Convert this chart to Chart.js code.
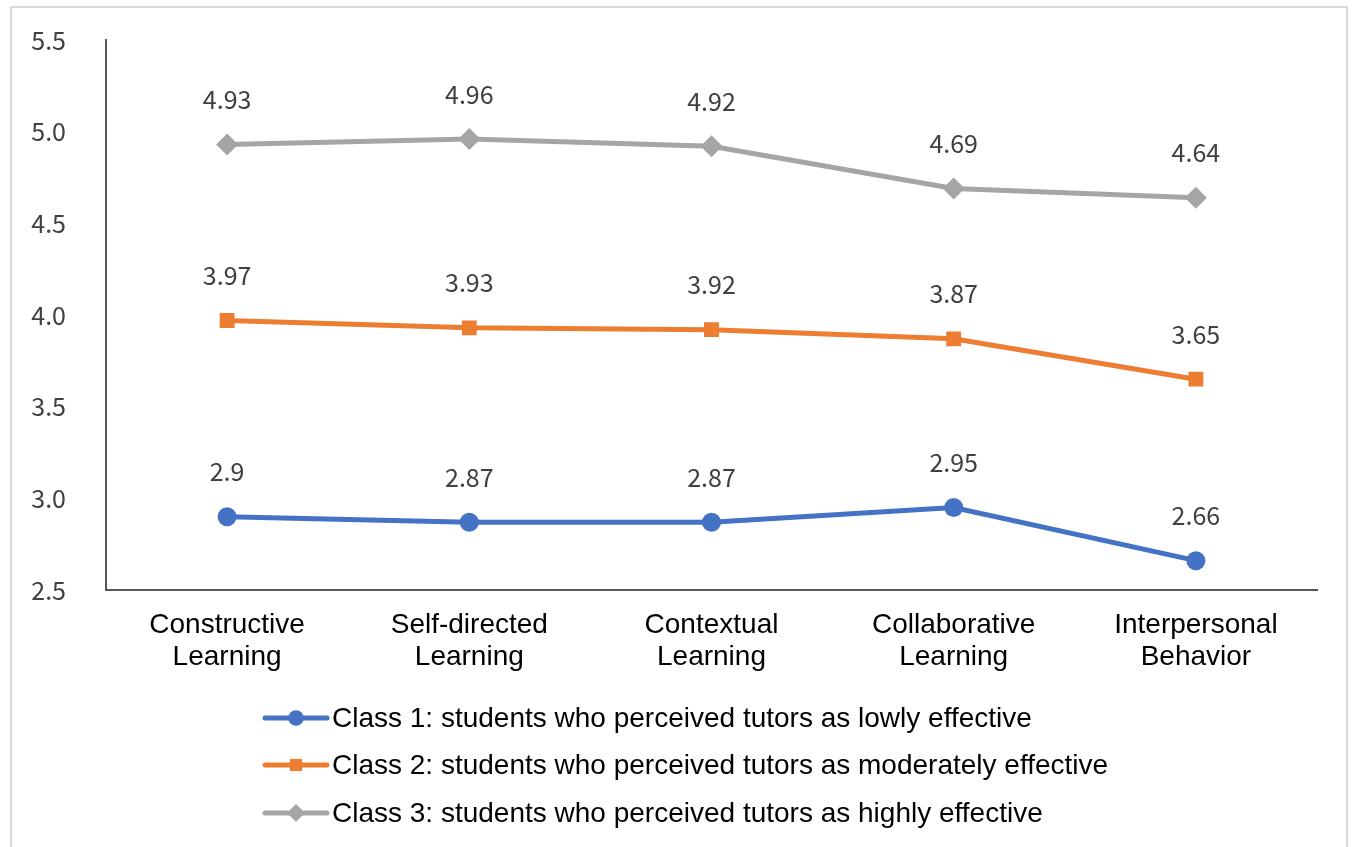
<!DOCTYPE html>
<html>
<head>
<meta charset="utf-8">
<script src="https://cdn.jsdelivr.net/npm/chart.js@4/dist/chart.umd.min.js"></script>
<style>
  html, body { margin: 0; padding: 0; background: #fff; }
  #wrap { position: relative; width: 1354px; height: 847px; }
  #frame {
    position: absolute; left: 10px; top: 6px; width: 1338px; height: 860px;
    border: 2px solid #d9d9d9; box-sizing: border-box; pointer-events: none;
  }
  canvas { position: absolute; left: 0; top: 0; }
</style>
</head>
<body>
<div id="wrap">
  <canvas id="chart" width="1354" height="847"></canvas>
  <div id="frame"></div>
</div>
<script>
const categories = [
  ['Constructive', 'Learning'],
  ['Self-directed', 'Learning'],
  ['Contextual', 'Learning'],
  ['Collaborative', 'Learning'],
  ['Interpersonal', 'Behavior'],
]
const class1 = [2.9, 2.87, 2.87, 2.95, 2.66]
const class2 = [3.97, 3.93, 3.92, 3.87, 3.65]
const class3 = [4.93, 4.96, 4.92, 4.69, 4.64]
const seriesNames = [
  'Class 1: students who perceived tutors as lowly effective',
  'Class 2: students who perceived tutors as moderately effective',
  'Class 3: students who perceived tutors as highly effective',
]

const numFont = '"Noto Sans CJK KR", "Noto Sans", sans-serif'
const textFont = '"Liberation Sans", Arial, sans-serif'

// value labels above each point
const pointLabels = {
  id: 'pointLabels',
  afterDatasetsDraw(chart) {
    const ctx = chart.ctx
    ctx.save()
    ctx.font = '25px ' + numFont
    ctx.fillStyle = '#404040'
    ctx.textAlign = 'center'
    ctx.textBaseline = 'middle'
    chart.data.datasets.forEach((ds, i) => {
      chart.getDatasetMeta(i).data.forEach((pt, j) => {
        ctx.fillText(String(ds.data[j]), pt.x, pt.y - 45)
      })
    })
    ctx.restore()
  },
}

// vertical legend under the axis, line + marker like the office style
const stackedLegend = {
  id: 'stackedLegend',
  afterDraw(chart) {
    const ctx = chart.ctx
    const x0 = 263
    const rows = [718, 765, 813]
    ctx.save()
    chart.data.datasets.forEach((ds, i) => {
      const y = rows[i]
      ctx.strokeStyle = ds.borderColor
      ctx.lineWidth = 5
      ctx.lineCap = 'round'
      ctx.beginPath()
      ctx.moveTo(x0 + 2, y)
      ctx.lineTo(x0 + 64, y)
      ctx.stroke()
      ctx.fillStyle = ds.borderColor
      Chart.helpers.drawPoint(ctx, {
        pointStyle: ds.pointStyle,
        radius: ds.pointRadius * 0.82,
        rotation: 0,
        borderWidth: 0,
      }, x0 + 33, y)
      ctx.fillStyle = '#000'
      ctx.font = '28px ' + textFont
      ctx.textAlign = 'left'
      ctx.textBaseline = 'middle'
      ctx.fillText(ds.label, x0 + 69, y + 1)
    })
    ctx.restore()
  },
}

function lineSet(label, data, color, style, r) {
  return {
    label,
    data,
    borderColor: color,
    backgroundColor: color,
    borderWidth: 5,
    pointStyle: style,
    pointRadius: r,
    pointHoverRadius: r,
    pointBorderWidth: 0,
    tension: 0,
  }
}

new Chart(document.getElementById('chart'), {
  type: 'line',
  data: {
    labels: categories,
    datasets: [
      lineSet(seriesNames[0], class1, '#4472C4', 'circle', 9.5),
      lineSet(seriesNames[1], class2, '#ED7D31', 'rect', 10.5),
      lineSet(seriesNames[2], class3, '#A5A5A5', 'rectRot', 11),
    ],
  },
  options: {
    responsive: false,
    animation: false,
    layout: { padding: { top: 40, right: 37, bottom: 100, left: 0 } },
    plugins: {
      legend: { display: false },
      tooltip: { enabled: false },
    },
    scales: {
      x: {
        offset: true,
        afterFit: (scale) => { scale.height = 157; scale.paddingLeft = 0; scale.paddingRight = 0 },
        grid: { display: false, drawTicks: false, offset: true },
        border: { display: true, color: '#595959', width: 2 },
        ticks: {
          color: '#000',
          padding: 19,
          maxRotation: 0,
          autoSkip: false,
          font: { family: textFont, size: 28, lineHeight: 1.15 },
        },
      },
      y: {
        min: 2.5,
        max: 5.5,
        afterFit: (scale) => { scale.width = 106; scale.paddingTop = 0; scale.paddingBottom = 0 },
        grid: { display: false, drawTicks: false },
        border: { display: true, color: '#595959', width: 2 },
        ticks: {
          stepSize: 0.5,
          color: '#404040',
          padding: 40,
          font: { family: numFont, size: 25 },
          callback: (v) => Number(v).toFixed(1),
        },
      },
    },
  },
  plugins: [pointLabels, stackedLegend],
})
</script>
</body>
</html>
